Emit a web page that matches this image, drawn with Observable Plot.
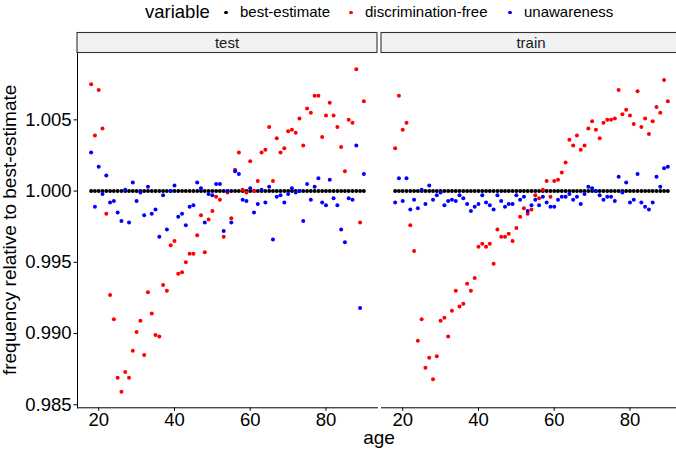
<!DOCTYPE html>
<html><head><meta charset="utf-8">
<script src="https://cdn.jsdelivr.net/npm/d3@7"></script>
<script src="https://cdn.jsdelivr.net/npm/@observablehq/plot@0.6"></script>
<style>
html,body{margin:0;padding:0;background:#fff;}
#wrap{position:relative;width:676px;height:452px;overflow:hidden;font-family:"Liberation Sans",Arial,Helvetica,sans-serif;background:#fff;}
#legend{position:absolute;left:0;top:0;width:676px;height:30px;}
#legend .t{position:absolute;white-space:nowrap;line-height:1;color:#000;}
#legend .k{position:absolute;width:3.4px;height:3.4px;border-radius:50%;}
#chart{position:absolute;left:0;top:30px;}
</style></head><body>
<div id="wrap"><div id="legend"></div><div id="chart"></div></div>
<script>
const sets = ["test", "train"];
const variables = ["best-estimate", "discrimination-free", "unawareness"];
const colors = ["#000000", "#FF0000", "#0000FF"];
const xTicks = [20, 40, 60, 80];
const yTicks = [0.985, 0.990, 0.995, 1.000, 1.005];
const ages = [18,19,20,21,22,23,24,25,26,27,28,29,30,31,32,33,34,35,36,37,38,39,40,41,42,43,44,45,46,47,48,49,50,51,52,53,54,55,56,57,58,59,60,61,62,63,64,65,66,67,68,69,70,71,72,73,74,75,76,77,78,79,80,81,82,83,84,85,86,87,88,89,90];
const bestEstimate = 1.000;

const testDiscriminationFree = [1.0075,1.0039,1.0071,1.0044,0.9984,0.9927,0.9910,0.9869,0.98592,0.9873,0.9869,0.9888,0.9901,0.9909,0.9885,0.9929,0.9914,0.9899,0.9898,0.9934,0.9930,0.9962,0.9965,0.9942,0.9943,0.9950,0.9956,0.9956,0.9969,0.9983,0.9957,0.9980,0.9986,0.9996,0.9994,0.9968,0.9999,0.9981,1.0015,1.0027,1.0001,0.9999,1.0021,1.0000,1.0007,1.0027,1.0029,1.0045,1.0007,1.0037,1.0027,1.0030,1.0042,1.0043,1.0041,1.0051,1.0032,1.0058,1.0055,1.0067,1.0067,1.0038,1.0053,1.0062,1.0053,1.0045,1.0031,1.0014,1.0050,1.0048,1.00856,0.9978,1.0063];
const testUnawareness = [1.0027,0.9989,1.0017,0.9998,1.0011,0.9992,0.9993,0.9985,0.9979,1.0001,0.9978,1.0006,0.9993,0.9999,0.9983,1.0003,0.9984,0.9987,0.9968,0.9997,0.9973,1.0000,1.0004,0.9982,0.9984,0.9976,0.9989,0.9990,1.0006,1.0002,0.9978,0.9998,0.9997,1.0005,1.0005,0.9972,1.0000,0.9978,1.0014,1.0012,0.9994,0.9993,1.0002,0.9985,0.9991,1.0001,0.9992,1.0003,0.9966,0.9996,0.9997,0.9992,0.9998,1.0002,0.9999,1.0000,0.9979,1.0005,0.9994,1.0003,1.0009,0.9992,0.9990,1.0008,0.9995,0.9990,0.9973,0.9964,0.9995,0.9994,1.0032,0.9918,1.0012];
const trainDiscriminationFree = [1.0030,1.0067,1.0043,1.0048,0.9976,0.9958,0.9895,0.9910,0.9876,0.9883,0.9868,0.9884,0.9909,0.9911,0.9898,0.9916,0.9930,0.9919,0.9921,0.9935,0.9930,0.9939,0.9961,0.9963,0.9961,0.9963,0.9949,0.9973,0.9968,0.9968,0.9970,0.9965,0.9974,0.9982,0.9988,0.9984,0.9987,0.9997,0.9995,1.0001,1.0007,0.9996,1.0007,1.0008,1.0013,1.0020,1.0036,1.0032,1.0039,1.0029,1.0032,1.0044,1.0049,1.0043,1.0037,1.0048,1.0050,1.0050,1.0051,1.0071,1.0054,1.0057,1.0053,1.0047,1.0070,1.0045,1.0051,1.0040,1.0049,1.0059,1.0055,1.0078,1.0063];
const trainUnawareness = [0.9992,1.0009,0.9993,1.0009,0.9987,0.9994,0.9988,1.0001,0.9991,1.0004,0.9994,0.9997,0.9999,0.9990,0.9993,0.9994,0.9993,0.9997,0.9995,0.9991,0.9986,0.9989,0.9991,0.9997,0.9992,0.9990,0.9987,0.9997,0.9993,0.9989,0.9991,0.9991,0.9997,0.9994,0.9996,0.9986,0.9990,0.9994,0.9990,0.9996,0.9992,0.9989,0.9989,0.9994,0.9996,0.9996,0.9998,0.9994,0.9996,0.9991,0.9998,1.0003,1.0002,1.0000,0.9997,0.9994,0.9996,0.9996,0.9993,1.0010,0.9999,1.0006,0.9992,0.9994,1.0012,0.9992,0.9989,0.9987,0.9992,1.0010,1.0003,1.0016,1.0017];

const seriesBySet = {
  test: {"discrimination-free": testDiscriminationFree, "unawareness": testUnawareness},
  train: {"discrimination-free": trainDiscriminationFree, "unawareness": trainUnawareness}
};

const rows = [];
for (const v of variables) {
  for (const s of sets) {
    ages.forEach((a, i) => {
      rows.push({set: s, age: a, variable: v, value: v === "best-estimate" ? bestEstimate : seriesBySet[s][v][i]});
    });
  }
}

const xExt = d3.extent(ages), xPad = (xExt[1] - xExt[0]) * 0.05;
const yExt = d3.extent(rows, d => d.value), yPad = (yExt[1] - yExt[0]) * 0.05;
const FONT = '"Liberation Sans", Arial, Helvetica, sans-serif';

const plot = Plot.plot({
  width: 683,
  height: 422,
  marginLeft: 76.5,
  marginRight: 0.5,
  marginTop: 22.5,
  marginBottom: 44.7,
  style: {fontFamily: FONT, fontSize: "18.5px", color: "#000", background: "transparent", maxWidth: "none", overflow: "visible"},
  facet: {data: rows, x: "set"},
  fx: {domain: sets, paddingInner: 0.0131, paddingOuter: 0, axis: null, label: null},
  x: {domain: [xExt[0] - xPad, xExt[1] + xPad], ticks: xTicks, tickSize: 3.5, tickPadding: 2, label: null, line: true},
  y: {domain: [yExt[0] - yPad, yExt[1] + yPad], ticks: yTicks, tickFormat: d3.format(".3f"), tickSize: 3.5, tickPadding: 2.5, label: null, line: true},
  color: {domain: variables, range: colors},
  marks: [
    Plot.dot(rows, {x: "age", y: "value", fill: "variable", r: 2})
  ]
});
document.getElementById("chart").appendChild(plot);

// strips and axis titles, positioned from the plot's own scales
const svgSel = d3.select(plot);
const fxs = plot.scale("fx");
const ys = plot.scale("y");
const yTop = Math.min(...ys.range), yBottom = Math.max(...ys.range);
const bw = fxs.bandwidth;
const deco = svgSel.append("g").attr("font-family", FONT);
for (const s of sets) {
  const x0 = fxs.apply(s);
  deco.append("rect").attr("x", x0).attr("y", yTop - 20).attr("width", bw).attr("height", 20)
    .attr("fill", "#F2F2F2").attr("stroke", "#333333").attr("stroke-width", 1.1);
  deco.append("text").attr("x", x0 + bw / 2).attr("y", yTop - 10).attr("dy", "0.35em")
    .attr("text-anchor", "middle").attr("font-size", 15).attr("fill", "#1A1A1A").text(s);
}
const panelsLeft = fxs.apply(sets[0]), panelsRight = fxs.apply(sets[sets.length - 1]) + bw;
deco.append("text").attr("x", (panelsLeft + panelsRight) / 2).attr("y", yBottom + 36.7)
  .attr("text-anchor", "middle").attr("font-size", 19).attr("fill", "#000").text("age");
deco.append("text").attr("transform", `translate(16,${(yTop + yBottom) / 2}) rotate(-90)`)
  .attr("text-anchor", "middle").attr("font-size", 19).attr("fill", "#000").text("frequency relative to best-estimate");

// legend
const legend = d3.select("#legend");
legend.append("span").attr("class", "t").style("left", "145px").style("top", "3.3px").style("font-size", "18.5px").text("variable");
const keyX = [226, 351, 510], labelX = [240, 365, 524];
variables.forEach((v, i) => {
  legend.append("span").attr("class", "k").style("left", (keyX[i] - 1.7) + "px").style("top", (12.3 - 1.7) + "px").style("background", colors[i]);
  legend.append("span").attr("class", "t").style("left", labelX[i] + "px").style("top", "4px").style("font-size", "15px").text(v);
});
</script>
</body></html>
